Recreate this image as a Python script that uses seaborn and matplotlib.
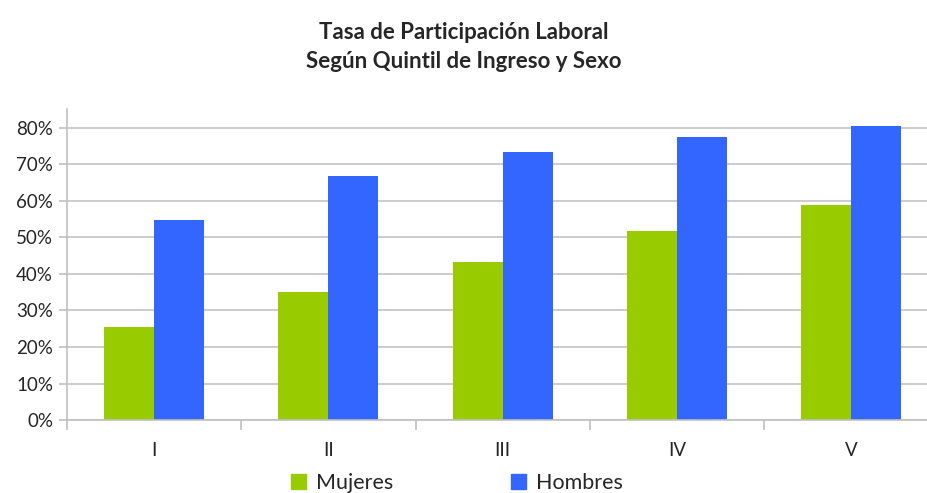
import matplotlib
matplotlib.use("Agg")
import matplotlib.pyplot as plt
import seaborn as sns
import pandas as pd
from matplotlib.ticker import PercentFormatter, FixedLocator
from matplotlib.patches import Patch

quintiles = ["I", "II", "III", "IV", "V"]
mujeres = [0.255, 0.351, 0.434, 0.518, 0.590]
hombres = [0.549, 0.669, 0.734, 0.776, 0.806]
series = ["Mujeres", "Hombres"]
colors = ["#99CC00", "#3366FF"]

df = pd.DataFrame({
    "Quintil": quintiles * 2,
    "Tasa": mujeres + hombres,
    "Sexo": [series[0]] * len(quintiles) + [series[1]] * len(quintiles),
})

sns.set_style("white")
plt.rcParams["font.family"] = ["Lato", "DejaVu Sans"]

fig = plt.figure(figsize=(9.27, 4.93), dpi=100)
ax = fig.add_axes([0.0723, 0.148, 0.940, 0.631])

sns.barplot(data=df, x="Quintil", y="Tasa", hue="Sexo", palette=colors,
            width=0.574, saturation=1, ax=ax, legend=False, linewidth=0)

ax.set_xlim(-0.5, 4.5)
ax.set_ylim(0, 0.852)
ax.set_yticks([i / 10 for i in range(9)])
ax.yaxis.set_major_formatter(PercentFormatter(1.0, decimals=0))
ax.yaxis.grid(True, color="#c4c4c4", linewidth=1.2)
ax.set_axisbelow(True)
ax.set_xlabel("")
ax.set_ylabel("")

for side in ["top", "right"]:
    ax.spines[side].set_visible(False)
for side in ["left", "bottom"]:
    ax.spines[side].set_color("#c0c0c0")
    ax.spines[side].set_linewidth(1.2)

ax.tick_params(axis="y", length=6, color="#c0c0c0", width=1.2, labelsize=13.5, pad=4, left=True)
ax.tick_params(axis="x", which="major", length=0, labelsize=13.5, pad=16)
ax.xaxis.set_minor_locator(FixedLocator([-0.5, 0.5, 1.5, 2.5, 3.5]))
ax.tick_params(axis="x", which="minor", length=7, color="#c0c0c0", width=1.2, bottom=True)

fig.text(0.5, 0.935, "Tasa de Participación Laboral", ha="center", va="center",
         fontsize=16, fontweight="bold")
fig.text(0.5, 0.876, "Según Quintil de Ingreso y Sexo", ha="center", va="center",
         fontsize=16, fontweight="bold")

handles = [Patch(color=c, label=s) for c, s in zip(colors, series)]
fig.legend(handles=handles, loc="center", bbox_to_anchor=(457 / 927, 10 / 493),
           ncol=2, frameon=False, fontsize=15.5, handlelength=0.7, handleheight=0.7,
           handletextpad=0.45, columnspacing=5.5, borderpad=0)

fig.savefig("out.png", dpi=100)
